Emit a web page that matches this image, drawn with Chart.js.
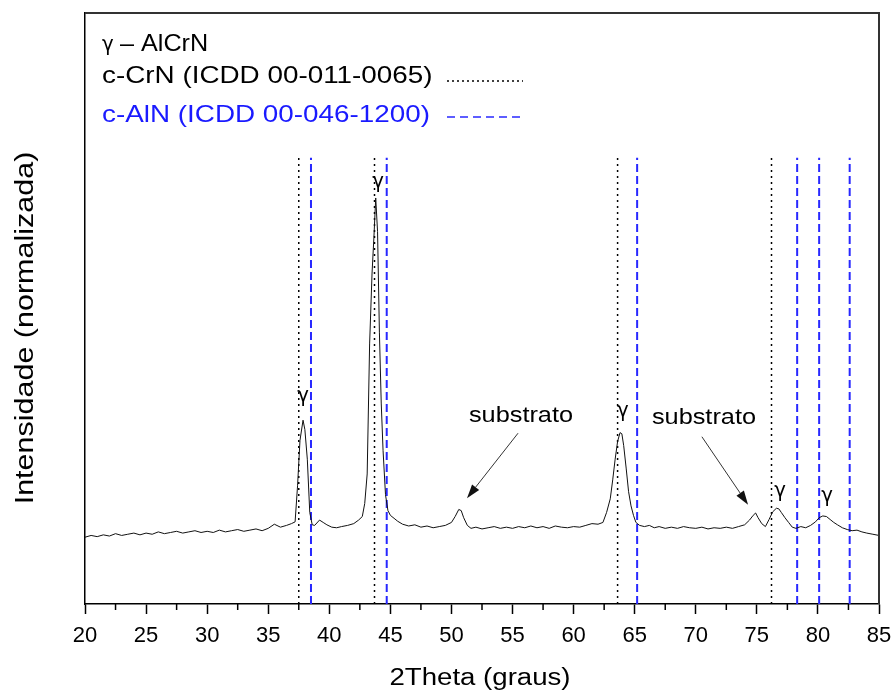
<!DOCTYPE html>
<html>
<head>
<meta charset="utf-8">
<script src="https://cdn.jsdelivr.net/npm/chart.js@4.4.1/dist/chart.umd.min.js"></script>
<style>
  html, body { margin: 0; padding: 0; background: #fff; }
  #wrap { width: 896px; height: 693px; position: relative; }
</style>
</head>
<body>
<div id="wrap"><canvas id="xrd-canvas"></canvas></div>
<script>
// 2theta positions (graus) and normalised intensity
const twoTheta = [
    20.0, 20.5, 21.0, 21.5, 22.0, 22.5, 23.0, 23.5, 24.0, 24.5,
    25.0, 25.5, 26.0, 26.5, 27.0, 27.5, 28.0, 28.5, 29.0, 29.5,
    30.0, 30.5, 31.0, 31.5, 32.0, 32.5, 33.0, 33.5, 34.0, 34.5,
    35.0, 35.5, 36.0, 36.5, 36.9, 37.2, 37.4, 37.6, 37.85, 38.0,
    38.2, 38.4, 38.6, 38.8, 39.2, 39.5, 39.8, 40.2, 40.6, 41.0,
    41.5, 42.0, 42.4, 42.7, 42.9, 43.1, 43.3, 43.5, 43.65, 43.8,
    43.95, 44.1, 44.25, 44.4, 44.6, 44.8, 45.0, 45.3, 45.6, 46.0,
    46.5, 47.0, 47.5, 48.0, 48.5, 49.0, 49.5, 50.0, 50.3, 50.6,
    50.8, 51.0, 51.3, 51.6, 52.0, 52.5, 53.0, 53.5, 54.0, 54.5,
    55.0, 55.5, 56.0, 56.5, 57.0, 57.5, 58.0, 58.5, 59.0, 59.5,
    60.0, 60.5, 61.0, 61.5, 62.0, 62.4, 62.7, 63.0, 63.2, 63.4,
    63.6, 63.8, 63.95, 64.1, 64.3, 64.5, 64.7, 64.9, 65.1, 65.4,
    65.8, 66.2, 66.6, 67.0, 67.5, 68.0, 68.5, 69.0, 69.5, 70.0,
    70.5, 71.0, 71.5, 72.0, 72.5, 73.0, 73.5, 74.0, 74.4, 74.7,
    74.9, 75.1, 75.4, 75.7, 76.0, 76.3, 76.6, 76.8, 77.0, 77.3,
    77.6, 77.9, 78.2, 78.6, 79.0, 79.4, 79.8, 80.1, 80.4, 80.7,
    81.0, 81.3, 81.6, 82.0, 82.4, 82.8, 83.2, 83.6, 84.0, 84.5,
    85.0
];
const intensity = [
    11.3, 11.6, 11.4, 11.7, 11.5, 11.9, 11.6, 11.8, 12.0, 11.7,
    12.0, 11.8, 12.2, 11.9, 12.1, 12.3, 12.0, 12.2, 12.4, 12.1,
    12.3, 12.1, 12.5, 12.2, 12.4, 12.6, 12.3, 12.5, 12.7, 12.4,
    12.8, 13.5, 13.0, 13.3, 13.6, 13.9, 20.0, 27.7, 31.1, 29.5,
    24.5, 15.5, 13.4, 13.3, 14.2, 13.8, 13.4, 13.0, 12.9, 13.1,
    13.3, 13.6, 14.2, 14.8, 17.0, 22.0, 44.0, 56.0, 62.0, 68.7,
    63.0, 46.0, 34.0, 26.0, 18.5, 15.8, 15.0, 14.5, 14.0, 13.5,
    13.2, 13.4, 13.0, 13.2, 12.9, 13.1, 13.3, 13.8, 14.8, 16.0,
    15.8, 14.6, 13.3, 12.8, 13.0, 12.7, 12.9, 13.1, 12.8, 13.0,
    12.8, 13.1, 12.9, 13.2, 12.9, 13.1, 12.8, 13.2, 13.0, 12.9,
    13.1, 13.0, 13.3, 13.6, 13.5, 13.8, 15.5, 17.8, 21.0, 24.5,
    27.5, 29.0, 28.8, 26.8, 23.0, 19.0, 16.6, 15.0, 13.8, 13.3,
    13.1, 13.3, 12.9, 13.1, 12.8, 13.0, 12.8, 13.1, 12.9, 12.8,
    13.0, 12.7, 12.9, 12.8, 13.0, 12.8, 13.1, 13.4, 14.2, 15.0,
    15.4, 14.6, 13.6, 13.1, 14.3, 15.6, 16.2, 16.1, 15.5, 14.6,
    13.8, 13.0, 12.8, 13.1, 12.9, 13.3, 13.9, 14.6, 14.9, 14.8,
    14.3, 13.8, 13.4, 12.9, 12.6, 12.4, 12.5, 12.2, 12.0, 11.8,
    11.6
];

// reference patterns
const crnLines = [37.5, 43.7, 63.6, 76.2];               // c-CrN (ICDD 00-011-0065)
const alnLines = [38.5, 44.7, 65.2, 78.3, 80.1, 82.6];   // c-AlN (ICDD 00-046-1200)
const refTop = 75.5;

const xTicks = [20, 25, 30, 35, 40, 45, 50, 55, 60, 65, 70, 75, 80, 85];
const minorTicks = [22.5, 27.5, 32.5, 37.5, 42.5, 47.5, 52.5, 57.5, 62.5, 67.5, 72.5, 77.5, 82.5];

// peak labels [2theta, intensity]
const gammaLabels = [[37.85, 34.2], [43.99, 70.4], [64.04, 31.6], [76.9, 18.1], [80.75, 17.3]];
// substrate labels and arrows: [labelX, labelY, fromX, fromY, toX, toY]
const substrateNotes = [
    [55.69, 30.8, 55.45, 28.9, 51.27, 17.9],
    [70.67, 30.5, 70.5, 28.3, 74.28, 16.8]
];

const legendItems = [
    { text: "\u2013 AlCrN", color: "#000", sample: null, gamma: true },
    { text: "c-CrN (ICDD 00-011-0065)", color: "#000", sample: "dot" },
    { text: "c-AlN (ICDD 00-046-1200)", color: "#1a1aff", sample: "dash" }
];

const FONT = 'Arial, "Liberation Sans", sans-serif';
const GFONT = '"DejaVu Sans", sans-serif';
const BLUE = "rgb(40, 40, 255)";

function stretchText(ctx, text, x, y, sx, align) {
    ctx.save();
    ctx.translate(x, y);
    ctx.scale(sx, 1);
    ctx.textAlign = align || "left";
    ctx.fillText(text, 0, 0);
    ctx.restore();
}

const scanPoints = twoTheta.map((t, i) => ({ x: t, y: intensity[i] }));

const refDatasets = [];
crnLines.forEach(p => refDatasets.push({
    data: [{ x: p, y: 0 }, { x: p, y: refTop }],
    borderColor: "#000", borderWidth: 1.5, borderDash: [2, 4],
    showLine: true, pointRadius: 0, fill: false
}));
alnLines.forEach(p => refDatasets.push({
    data: [{ x: p, y: 0 }, { x: p, y: refTop }],
    borderColor: BLUE, borderWidth: 2, borderDash: [8, 4],
    showLine: true, pointRadius: 0, fill: false
}));

const decorations = {
    id: "decorations",
    afterDraw(chart) {
        const ctx = chart.ctx;
        const area = chart.chartArea;
        const xs = chart.scales.x;
        const ys = chart.scales.y;

        // top and right frame
        ctx.save();
        ctx.strokeStyle = "#333";
        ctx.lineWidth = 2;
        ctx.beginPath();
        ctx.moveTo(area.left, area.top);
        ctx.lineTo(area.right, area.top);
        ctx.lineTo(area.right, area.bottom);
        ctx.stroke();

        // minor ticks
        ctx.strokeStyle = "#000";
        ctx.lineWidth = 1.5;
        minorTicks.forEach(v => {
            const px = xs.getPixelForValue(v);
            ctx.beginPath();
            ctx.moveTo(px, area.bottom);
            ctx.lineTo(px, area.bottom + 6);
            ctx.stroke();
        });

        // legend
        const lx = area.left + 17;
        const baselines = [51, 83, 122];
        ctx.textBaseline = "alphabetic";
        legendItems.forEach((item, i) => {
            ctx.fillStyle = item.color;
            if (item.gamma) {
                ctx.font = "22px " + GFONT;
                stretchText(ctx, "\u03b3", lx, baselines[i], 0.9);
                ctx.font = "24px " + FONT;
                stretchText(ctx, item.text, lx + 18, baselines[i], 1.05);
            } else {
                ctx.font = "24px " + FONT;
                stretchText(ctx, item.text, lx, baselines[i], 1.16);
            }
            if (item.sample) {
                const yy = item.sample === "dot" ? baselines[i] - 2 : baselines[i] - 5;
                ctx.beginPath();
                if (item.sample === "dot") {
                    ctx.strokeStyle = "#000";
                    ctx.lineWidth = 1.5;
                    ctx.setLineDash([2, 3]);
                } else {
                    ctx.strokeStyle = BLUE;
                    ctx.lineWidth = 1.5;
                    ctx.setLineDash([8, 5]);
                }
                ctx.moveTo(447, yy);
                ctx.lineTo(523, yy);
                ctx.stroke();
                ctx.setLineDash([]);
            }
        });

        // gamma peak labels
        ctx.fillStyle = "#000";
        ctx.font = "22px " + GFONT;
        gammaLabels.forEach(g => {
            stretchText(ctx, "\u03b3", xs.getPixelForValue(g[0]), ys.getPixelForValue(g[1]), 0.9, "center");
        });

        // substrate notes with arrows
        ctx.font = "22px " + FONT;
        substrateNotes.forEach(n => {
            ctx.fillStyle = "#000";
            stretchText(ctx, "substrato", xs.getPixelForValue(n[0]), ys.getPixelForValue(n[1]), 1.15, "center");
            const x1 = xs.getPixelForValue(n[2]), y1 = ys.getPixelForValue(n[3]);
            const x2 = xs.getPixelForValue(n[4]), y2 = ys.getPixelForValue(n[5]);
            const ang = Math.atan2(y2 - y1, x2 - x1);
            const hl = 14, hw = 4.5;
            const bx = x2 - hl * Math.cos(ang), by = y2 - hl * Math.sin(ang);
            ctx.strokeStyle = "#333";
            ctx.lineWidth = 1;
            ctx.beginPath();
            ctx.moveTo(x1, y1);
            ctx.lineTo(bx, by);
            ctx.stroke();
            ctx.fillStyle = "#111";
            ctx.beginPath();
            ctx.moveTo(x2, y2);
            ctx.lineTo(bx + hw * Math.sin(ang), by - hw * Math.cos(ang));
            ctx.lineTo(bx - hw * Math.sin(ang), by + hw * Math.cos(ang));
            ctx.closePath();
            ctx.fill();
        });

        // axis titles
        ctx.fillStyle = "#000";
        ctx.font = "23px " + FONT;
        stretchText(ctx, "2Theta (graus)", (area.left + area.right) / 2 - 2, 685, 1.2, "center");

        ctx.font = "25px " + FONT;
        ctx.save();
        ctx.translate(33, 328);
        ctx.rotate(-Math.PI / 2);
        stretchText(ctx, "Intensidade (normalizada)", 0, 0, 1.22, "center");
        ctx.restore();

        ctx.restore();
    }
};

const xrdCanvas = document.querySelector("#xrd-canvas");

const xrdChart = new Chart(xrdCanvas, {
    type: "scatter",
    data: {
        datasets: [
            {
                label: "AlCrN",
                data: scanPoints,
                showLine: true,
                borderColor: "#111",
                borderWidth: 1,
                pointRadius: 0,
                tension: 0,
                fill: false
            },
            ...refDatasets
        ]
    },
    options: {
        responsive: true,
        maintainAspectRatio: false,
        animation: false,
        layout: { padding: { top: 13, right: 17, left: 0, bottom: 0 } },
        plugins: {
            legend: { display: false },
            tooltip: { enabled: false }
        },
        scales: {
            x: {
                type: "linear",
                min: 20,
                max: 85,
                afterBuildTicks: (scale) => { scale.ticks = xTicks.map(v => ({ value: v })); },
                ticks: {
                    font: { family: FONT, size: 22 },
                    color: "#000",
                    padding: 9,
                    maxRotation: 0
                },
                grid: {
                    drawOnChartArea: false,
                    tickLength: 10,
                    tickColor: "#000",
                    tickWidth: 1.5
                },
                border: { color: "#000", width: 1.5 },
                afterFit: (scale) => {
                    scale.height = 89;
                    scale.paddingLeft = 0;
                    scale.paddingRight = 0;
                }
            },
            y: {
                min: 0,
                max: 100,
                ticks: { display: false },
                grid: { display: false },
                border: { color: "#000", width: 1.5 },
                afterFit: (scale) => { scale.width = 85; }
            }
        }
    },
    plugins: [decorations]
});
</script>
</body>
</html>
